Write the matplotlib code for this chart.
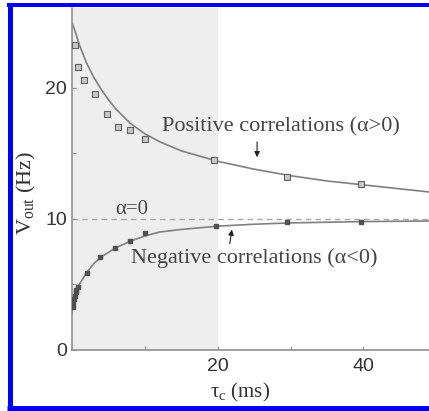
import numpy as np
import matplotlib
matplotlib.use('Agg')
import matplotlib.pyplot as plt
from matplotlib.lines import Line2D

## values
# smooth curves (theory)
pos_curve_x = [0, 0.5, 1, 2, 3, 4, 5, 6, 8, 10, 12, 15, 20, 25, 30, 35, 40, 45, 50]
pos_curve_y = [25.0, 24.2, 23.3, 21.9, 20.8, 19.9, 19.1, 18.4, 17.3, 16.5, 15.9, 15.2,
               14.4, 13.8, 13.3, 12.9, 12.6, 12.3, 12.0]
neg_curve_x = [0, 0.2, 0.5, 1, 2, 3, 4, 6, 8, 10, 12, 15, 20, 25, 30, 40, 50]
neg_curve_y = [2.8, 3.5, 4.3, 5.0, 5.9, 6.6, 7.1, 7.8, 8.3, 8.7, 9.0, 9.2, 9.45,
               9.6, 9.7, 9.8, 9.85]

# simulation points
pos_pts_x = [0.4, 0.8, 1.6, 3.1, 4.8, 6.3, 7.9, 10, 19.5, 29.5, 39.6]
pos_pts_y = [23.3, 21.6, 20.6, 19.5, 18.0, 17.0, 16.8, 16.1, 14.5, 13.2, 12.7]
neg_pts_x = [0.1, 0.2, 0.3, 0.4, 0.5, 0.6, 0.8, 2, 3.8, 5.9, 7.9, 10, 19.8, 29.5, 39.6]
neg_pts_y = [3.3, 3.6, 3.9, 4.1, 4.4, 4.6, 4.8, 5.9, 7.1, 7.8, 8.3, 8.9, 9.5, 9.75, 9.75]

alpha0 = 10  # uncorrelated rate
shade_end = 20

plt.rcParams['mathtext.fontset'] = 'custom'
plt.rcParams['mathtext.rm'] = 'Liberation Serif'
plt.rcParams['mathtext.it'] = 'Liberation Serif:italic'

W, H = 429, 411
fig = plt.figure(figsize=(W/100, H/100), dpi=100)
ax = fig.add_axes([72/W, 1-350/H, (W-72)/W, (350-8)/H])

ax.axvspan(0, shade_end, color='#eeeeee', lw=0, zorder=0)
ax.axhline(alpha0, color='#a8a8a8', ls=(0, (4, 3)), lw=1.0, zorder=1)
ax.plot(pos_curve_x, pos_curve_y, color='#808080', lw=1.2, zorder=2)
ax.plot(neg_curve_x, neg_curve_y, color='#808080', lw=1.2, zorder=2)
ax.plot(pos_pts_x, pos_pts_y, 's', ms=4, mfc='#c8c8c8', mec='#606060', mew=0.8, zorder=3)
ax.plot(neg_pts_x, neg_pts_y, 's', ms=3.5, mfc='#505050', mec='#505050', zorder=3)

ax.set_xlim(0, 49)
ax.set_ylim(0, 26.1)
for s in ['top', 'right']:
    ax.spines[s].set_visible(False)
for s in ['left', 'bottom']:
    ax.spines[s].set_color('#909090')
    ax.spines[s].set_linewidth(1.2)

ax.set_xticks([10, 20, 30, 40])
ax.set_xticklabels(['', '20', '', '40'])
ax.set_yticks([0, 5, 10, 15, 20])
ax.set_yticklabels(['0', '', '10', '', '20'])
ax.tick_params(direction='in', length=3, color='#909090', labelsize=14,
               labelcolor='#333333')
ax.tick_params(axis='x', pad=6)
for lab in ax.get_xticklabels() + ax.get_yticklabels():
    lab.set_family('Liberation Sans')

serif = 'Liberation Serif'
ax.set_ylabel(r'V$_{\rm out}$ (Hz)', family=serif, fontsize=16, color='#333333')
ax.yaxis.set_label_coords(-0.095, 0.46)
ax.set_xlabel('\u03c4$_{\\rm c}$ (ms)', family=serif, fontsize=15, color='#333333')
ax.xaxis.set_label_coords(0.47, -0.09)

ax.text(28.7, 17.0, 'Positive correlations (\u03b1>0)', family=serif, fontsize=16,
        color='#444444', ha='center', va='center')
ax.annotate('', xy=(25.4, 14.5), xytext=(25.4, 16.1),
            arrowprops=dict(arrowstyle='-|>', color='#222222', lw=0.8, mutation_scale=8))
ax.text(8.2, 10.7, '\u03b1=0', family=serif, fontsize=15, color='#444444',
        ha='center', va='center')
ax.text(25.0, 7.0, 'Negative correlations (\u03b1<0)', family=serif, fontsize=16,
        color='#444444', ha='center', va='center')
ax.annotate('', xy=(22.0, 9.4), xytext=(21.6, 7.9),
            arrowprops=dict(arrowstyle='-|>', color='#222222', lw=0.8, mutation_scale=8))

# blue frame (no right side)
blue = '#0000ff'
lw_pt = 5 * 72 / 100
fig.add_artist(Line2D([9.5/W, 9.5/W], [1-3/H, 1-410/H], color=blue, lw=lw_pt,
                      solid_capstyle='butt'))
fig.add_artist(Line2D([7/W, 1], [1-5/H, 1-5/H], color=blue, lw=4*72/100,
                      solid_capstyle='butt'))
fig.add_artist(Line2D([7/W, 1], [1-407.5/H, 1-407.5/H], color=blue, lw=lw_pt,
                      solid_capstyle='butt'))

fig.savefig('out.png', dpi=100)
